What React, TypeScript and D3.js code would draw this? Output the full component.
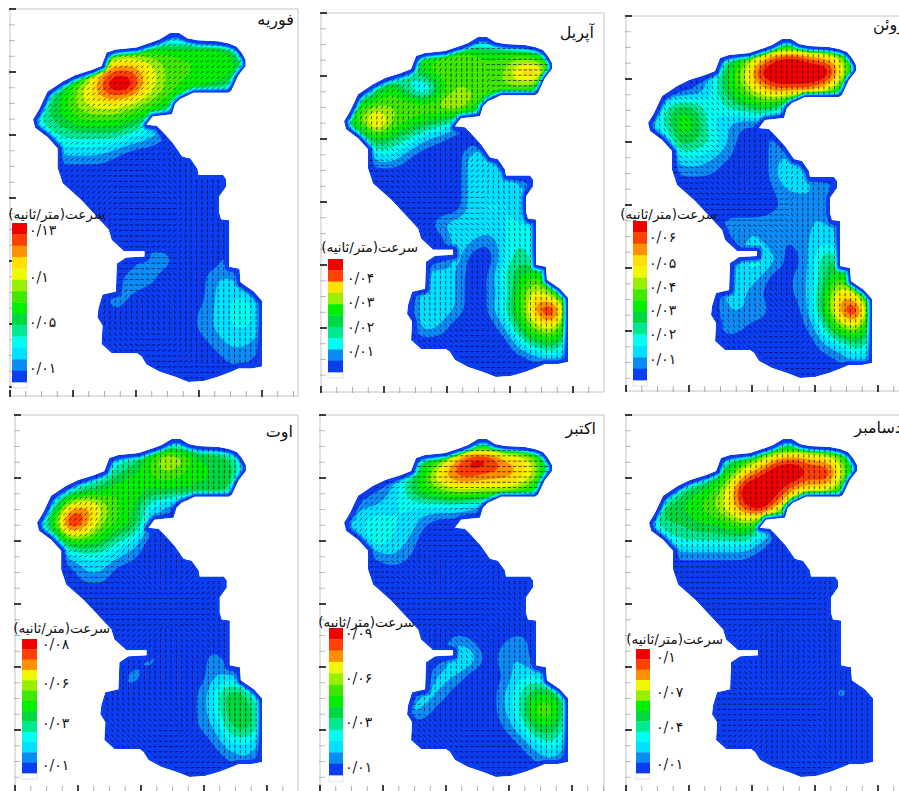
import React, { useMemo } from "react";
import * as d3 from "d3";

// colour bands of the speed legend, lowest first
const bandColors = ["#0a3cf0", "#0a8cf5", "#00e0ff", "#00fff0", "#00e890", "#00d840", "#00f000", "#40e800", "#98f000", "#f0f800", "#ffe000", "#ff9000", "#ff4000", "#f00000"];

// coast of the sea, in map units
const coast: [number, number][] = [
  [134, 0], [143, 0], [151, 5], [161, 7], [181, 8], [191, 10], [199, 13], [204, 19], [208, 26], [208, 32], [201, 41], [194, 56], [191, 58], [157, 58], [151, 61], [144, 64], [139, 69], [136, 79], [117, 81], [111, 89], [121, 90], [127, 96], [137, 107], [146, 120], [154, 122], [161, 132], [162, 138], [186, 138], [189, 142], [189, 149], [182, 159], [182, 174], [184, 181], [192, 182], [192, 227], [202, 229], [203, 242], [216, 251], [224, 260], [224, 324], [214, 326], [201, 326], [194, 329], [181, 334], [167, 338], [152, 339], [139, 334], [124, 329], [111, 322], [106, 314], [102, 311], [77, 311], [67, 302], [68, 284], [63, 276], [64, 267], [68, 254], [81, 251], [82, 224], [91, 218], [109, 217], [109, 212], [89, 212], [77, 201], [74, 191], [61, 177], [47, 162], [29, 146], [24, 131], [24, 112], [14, 101], [2, 92], [0, 84], [6, 74], [14, 57], [29, 47], [41, 41], [57, 36], [67, 32], [72, 19], [81, 16], [101, 14], [116, 9], [124, 6],
];

// speed band read at each node of a coarse 15 x 21 lattice (hex digit per node)
const speedFeb = ["000000000000000", "000046777777630", "0004acca8777750", "0369cfea8776500", "3579aa987500000", "356777652000000", "234444321000000", "222221000000000", "000000000000000", "000000000000000", "000000000000000", "000000000000000", "000000000000000", "000000022000200", "000000220002210", "000002100002331", "000001000012342", "000000000012332", "000000000001221", "000000000000110", "000000000000000"];
const speedApr = ["000000000000000", "000046788777640", "00024788778bc60", "005741688888700", "4788889a8500000", "58c876531000000", "036542100000000", "003310003300000", "000000003330000", "000000003333000", "000000003333000", "000000233333300", "000000032134300", "000000030035300", "000003320146750", "000003320137a73", "000003320147cf7", "0000032000269a5", "000000000003563", "000000000000121", "000000000000000"];
const speedJun = ["000000000000000", "0000247adecb930", "0000369effffb40", "0001368accca600", "046534565100000", "347632110000000", "026542002000000", "003321002200000", "001110002421000", "000000001222000", "000000001122000", "000002222122200", "000000221123200", "000001342025500", "000002320125740", "000003210126b93", "000002220026cf5", "000002100014894", "000000000002353", "000000000000122", "000000000000000"];
const speedAug = ["000000000000000", "00001347a966520", "000135678766620", "003567766666500", "14bc97632000000", "37fc87620000000", "027764300000000", "002332100000000", "000220000000000", "000000000000000", "000000000000000", "000000000000000", "000000000000000", "000000020002000", "000000200002210", "000002000013652", "000000000013663", "000000000012563", "000000000001332", "000000000000120", "000000000000000"];
const speedOct = ["000000000000000", "0000246beeba820", "000147bddccb930", "001257899998600", "022333332100000", "234331000000000", "024320000000000", "001210000000000", "000000000000000", "000000000000000", "000000000000000", "000000000000000", "000000021012000", "000000043022000", "000000320013310", "000003200024663", "000032000024883", "000000000013663", "000000000001342", "000000000000120", "000000000000000"];
const speedDec = ["000000000000000", "00001358bcba820", "000147bdffdea30", "00567affebaa700", "26678adfb700000", "355667862000000", "034444420000000", "011111100000000", "000000000000000", "000000000000000", "000000000000000", "000000000000000", "000000000000000", "000000000000000", "000000000000000", "000000000000200", "000000000000000", "000000000000000", "000000000000000", "000000000000000", "000000000000000"];

// flow orientation on a coarse 8 x 11 lattice, digit x 22.5 degrees
const flowFeb = ["22222222", "22222222", "22222222", "22222222", "22106444", "23300444", "44401444", "44207444", "44345444", "44671444", "00000000"];
const flowApr = ["22220000", "22334000", "23344100", "44644244", "00642444", "00000544", "00246544", "44444544", "44546444", "44760244", "00000000"];
const flowJun = ["44444444", "44444444", "46644444", "46744444", "00642444", "00000444", "00246444", "44444444", "44546444", "44760244", "00000000"];
const flowAug = ["44444444", "33444444", "22344444", "22234444", "00064244", "00000044", "00024644", "22244444", "44556444", "00760244", "00000000"];
const flowOct = ["00000000", "00000000", "22220000", "33300000", "00642444", "00000644", "00246444", "22344444", "00044444", "00760044", "00000000"];
const flowDec = ["44444444", "33444444", "33344444", "44444444", "00064244", "00000044", "00024644", "22264244", "00000044", "66024644", "00000000"];

const titleFeb = "فوریه";
const titleApr = "آپریل";
const titleJun = "ژوئن";
const titleAug = "اوت";
const titleOct = "اکتبر";
const titleDec = "دسامبر";
const legendTitle = "سرعت(متر/ثانیه)";

const labelsFeb = ["۰/۱۳", "۰/۱", "۰/۰۵", "۰/۰۱"];
const labelsApr = ["۰/۰۴", "۰/۰۳", "۰/۰۲", "۰/۰۱"];
const labelsJun = ["۰/۰۶", "۰/۰۵", "۰/۰۴", "۰/۰۳", "۰/۰۲", "۰/۰۱"];
const labelsAug = ["۰/۰۸", "۰/۰۶", "۰/۰۳", "۰/۰۱"];
const labelsOct = ["۰/۰۹", "۰/۰۶", "۰/۰۳", "۰/۰۱"];
const labelsDec = ["۰/۱", "۰/۰۷", "۰/۰۴", "۰/۰۱"];

// bands shown in each legend, top to bottom
const bandsFull = [13, 12, 11, 10, 9, 8, 7, 6, 5, 4, 3, 2, 1, 0];
const bandsApr = [13, 12, 10, 8, 6, 5, 4, 3, 1, 0];
const bandsThirteen = [13, 12, 11, 9, 8, 7, 6, 5, 4, 3, 2, 1, 0];
const bandsDec = [13, 12, 11, 9, 8, 6, 5, 4, 3, 2, 1, 0];

const W = 225;
const H = 340;

const panels = [
  { title: titleFeb, speed: speedFeb, flow: flowFeb, labels: labelsFeb, bands: bandsFull, frame: [10, 9, 298, 396], map: [33, 33, 262, 382], titleX: 294, titleY: 25, legend: [12, 27, 223, 382, 388], labelX: 29, labelY: [230, 277, 322, 368], legendTitleX: 105, legendTitleY: 219 },
  { title: titleApr, speed: speedApr, flow: flowApr, labels: labelsApr, bands: bandsApr, frame: [321, 13, 604, 392], map: [344, 37, 568, 377], titleX: 594, titleY: 38, legend: [328, 343, 259, 372, 378], labelX: 347, labelY: [278, 302, 327, 351], legendTitleX: 418, legendTitleY: 252 },
  { title: titleJun, speed: speedJun, flow: flowJun, labels: labelsJun, bands: bandsFull, frame: [626, 16, 912, 391], map: [648, 39, 872, 378], titleX: 905, titleY: 30, legend: [633, 647, 221, 380, 386], labelX: 649, labelY: [237, 263, 287, 310, 334, 359], legendTitleX: 717, legendTitleY: 219 },
  { title: titleAug, speed: speedAug, flow: flowAug, labels: labelsAug, bands: bandsThirteen, frame: [15, 415, 298, 793], map: [37, 439, 262, 777], titleX: 293, titleY: 437, legend: [22, 37, 639, 773, 779], labelX: 42, labelY: [644, 683, 723, 765], legendTitleX: 110, legendTitleY: 633 },
  { title: titleOct, speed: speedOct, flow: flowOct, labels: labelsOct, bands: bandsThirteen, frame: [320, 415, 604, 793], map: [344, 439, 568, 777], titleX: 596, titleY: 434, legend: [329, 343, 628, 775, 782], labelX: 345, labelY: [633, 678, 722, 767], legendTitleX: 415, legendTitleY: 627 },
  { title: titleDec, speed: speedDec, flow: flowDec, labels: labelsDec, bands: bandsDec, frame: [626, 415, 912, 793], map: [649, 439, 873, 777], titleX: 902, titleY: 433, legend: [636, 650, 649, 773, 779], labelX: 656, labelY: [657, 692, 727, 764], legendTitleX: 723, legendTitleY: 644 },
];

// distance to the coast for every raster cell, 0 outside
function coastDistance() {
  const out = new Float64Array(W * H);
  for (let j = 0; j < H; j++) {
    for (let i = 0; i < W; i++) {
      if (!d3.polygonContains(coast, [i, j])) continue;
      let best = Infinity;
      for (let k = 0; k < coast.length; k++) {
        const [ax, ay] = coast[k];
        const [bx, by] = coast[(k + 1) % coast.length];
        const dx = bx - ax, dy = by - ay;
        const t = Math.max(0, Math.min(1, ((i - ax) * dx + (j - ay) * dy) / (dx * dx + dy * dy)));
        const d = Math.hypot(i - ax - t * dx, j - ay - t * dy);
        if (d < best) best = d;
      }
      out[j * W + i] = best;
    }
  }
  return out;
}

function speedField(rows: string[], dist: Float64Array) {
  const nx = rows[0].length, ny = rows.length;
  const at = (c: number, r: number) => parseInt(rows[r][c], 16);
  const data = new Float64Array(W * H);
  for (let j = 0; j < H; j++) {
    const fy = (j / (H - 1)) * (ny - 1);
    const r = Math.min(ny - 2, Math.floor(fy));
    const ty = fy - r;
    for (let i = 0; i < W; i++) {
      const fx = (i / (W - 1)) * (nx - 1);
      const c = Math.min(nx - 2, Math.floor(fx));
      const tx = fx - c;
      data[j * W + i] = (at(c, r) * (1 - tx) + at(c + 1, r) * tx) * (1 - ty) + (at(c, r + 1) * (1 - tx) + at(c + 1, r + 1) * tx) * ty;
    }
  }
  d3.blur2({ data, width: W, height: H }, 5);
  // bands tighten against the coast
  for (let k = 0; k < data.length; k++) data[k] *= Math.max(0, Math.min(1, (dist[k] - 1.5) / 5));
  return data;
}

function flowPath(rows: string[], dist: Float64Array) {
  const nx = rows[0].length, ny = rows.length;
  const angle = (c: number, r: number) => parseInt(rows[r][c], 10) * 45 * Math.PI / 180;
  let d = "";
  for (let j = 1; j < H - 1; j += 5.3) {
    for (let i = 1; i < W - 1; i += 5.3) {
      if (dist[Math.round(j) * W + Math.round(i)] < 2.5) continue;
      const fx = (i / (W - 1)) * (nx - 1), fy = (j / (H - 1)) * (ny - 1);
      const c = Math.min(nx - 2, Math.floor(fx)), r = Math.min(ny - 2, Math.floor(fy));
      const tx = fx - c, ty = fy - r;
      let vx = 0, vy = 0;
      [[c, r, (1 - tx) * (1 - ty)], [c + 1, r, tx * (1 - ty)], [c, r + 1, (1 - tx) * ty], [c + 1, r + 1, tx * ty]].forEach(([a, b, w]) => {
        vx += Math.cos(angle(a, b)) * w;
        vy += Math.sin(angle(a, b)) * w;
      });
      const th = Math.atan2(vy, vx) / 2;
      const ux = Math.cos(th) * 1.7, uy = -Math.sin(th) * 1.7;
      d += `M${(i - ux).toFixed(1)},${(j - uy).toFixed(1)}L${(i + ux).toFixed(1)},${(j + uy).toFixed(1)}`;
    }
  }
  return d;
}

function Panel({ p, idx, dist }: any) {
  const [fx0, fy0, fx1, fy1] = p.frame;
  const [mx0, my0, mx1, my1] = p.map;
  const sx = (mx1 - mx0) / 224;
  const sy = (my1 - my0) / 339;
  const layers = useMemo(() => {
    const field = speedField(p.speed, dist);
    return d3.contours().size([W, H]).thresholds(d3.range(1, 14)).smooth(true)(Array.from(field));
  }, [p, dist]);
  const flow = useMemo(() => flowPath(p.flow, dist), [p, dist]);
  const geo = d3.geoPath();
  const coastPath = d3.line()(coast) + "Z";
  const tickX = d3.scaleLinear().domain([0, 18]).range([fx0, fx0 + 18 * 15.75]);
  const tickY = d3.scaleLinear().domain([0, 24]).range([fy0, fy0 + 24 * 15.75]);
  const [lx0, lx1, ly0, ly1, ly2] = p.legend;
  const bandY = d3.scaleBand<number>().domain(d3.range(p.bands.length)).range([ly0, ly1]);
  const axisBottom = Math.min(fy1, 791);
  return (
    <g>
      <path d={`M${fx0},${fy1}V${fy0}H${fx1}V${fy1}H${fx0}`} fill="none" stroke="#c4c4c4" strokeWidth={1} />
      {tickY.ticks(24).filter((t) => tickY(t) <= axisBottom - 2).map((t) => (
        <line key={"y" + t} x1={fx0 - 1} x2={fx0 + (t % 4 === 0 ? 6 : 5)} y1={tickY(t)} y2={tickY(t)} stroke={t % 4 === 0 ? "#111" : "#aaa"} strokeWidth={t % 4 === 0 ? 1.6 : 0.8} />
      ))}
      {tickX.ticks(18).filter((t) => tickX(t) <= Math.min(fx1, 899)).map((t) => (
        <line key={"x" + t} x1={tickX(t)} x2={tickX(t)} y1={axisBottom + 1} y2={axisBottom - (t % 4 === 0 ? 6 : 5)} stroke={t % 4 === 0 ? "#111" : "#999"} strokeWidth={t % 4 === 0 ? 1.6 : 0.8} />
      ))}
      <clipPath id={"coast" + idx}>
        <path d={coastPath} />
      </clipPath>
      <g transform={`translate(${mx0},${my0}) scale(${sx},${sy})`} filter="url(#soft)">
        <g clipPath={`url(#coast${idx})`}>
          <path d={coastPath} fill={bandColors[0]} />
          {layers.map((c) => (
            <path key={c.value} d={geo(c as any) || ""} fill={bandColors[c.value]} />
          ))}
          <path d={flow} fill="none" stroke="#05052a" strokeOpacity={0.8} strokeWidth={0.85} />
        </g>
      </g>
      <rect x={lx0} y={ly1} width={lx1 - lx0} height={ly2 - ly1} fill="#fff" stroke="#ccc" strokeWidth={0.6} />
      {p.bands.map((b: number, i: number) => (
        <rect key={i} x={lx0} y={bandY(i)} width={lx1 - lx0} height={bandY.bandwidth() + 0.3} fill={bandColors[b]} />
      ))}
      {p.labels.map((s: string, i: number) => (
        <text key={s} x={p.labelX} y={p.labelY[i]} dy="0.35em" fontSize={14} fill="#111" fontFamily="'DejaVu Serif','DejaVu Sans'">{s}</text>
      ))}
      <text x={p.legendTitleX} y={p.legendTitleY} fontSize={13.5} fill="#111" style={{ direction: "rtl", unicodeBidi: "embed" }} fontFamily="'DejaVu Sans'">{legendTitle}</text>
      <text x={p.titleX} y={p.titleY} fontSize={16} fill="#111" style={{ direction: "rtl", unicodeBidi: "embed" }} fontFamily="'DejaVu Sans'">{p.title}</text>
    </g>
  );
}

export default function App() {
  const dist = useMemo(coastDistance, []);
  return (
    <svg width={899} height={791} style={{ position: "absolute", left: 0, top: 0, background: "#fff" }}>
      <defs>
        <filter id="soft" x="-5%" y="-5%" width="110%" height="110%">
          <feGaussianBlur stdDeviation={0.4} />
        </filter>
      </defs>
      {panels.map((p, i) => (
        <Panel key={i} p={p} idx={i} dist={dist} />
      ))}
    </svg>
  );
}
